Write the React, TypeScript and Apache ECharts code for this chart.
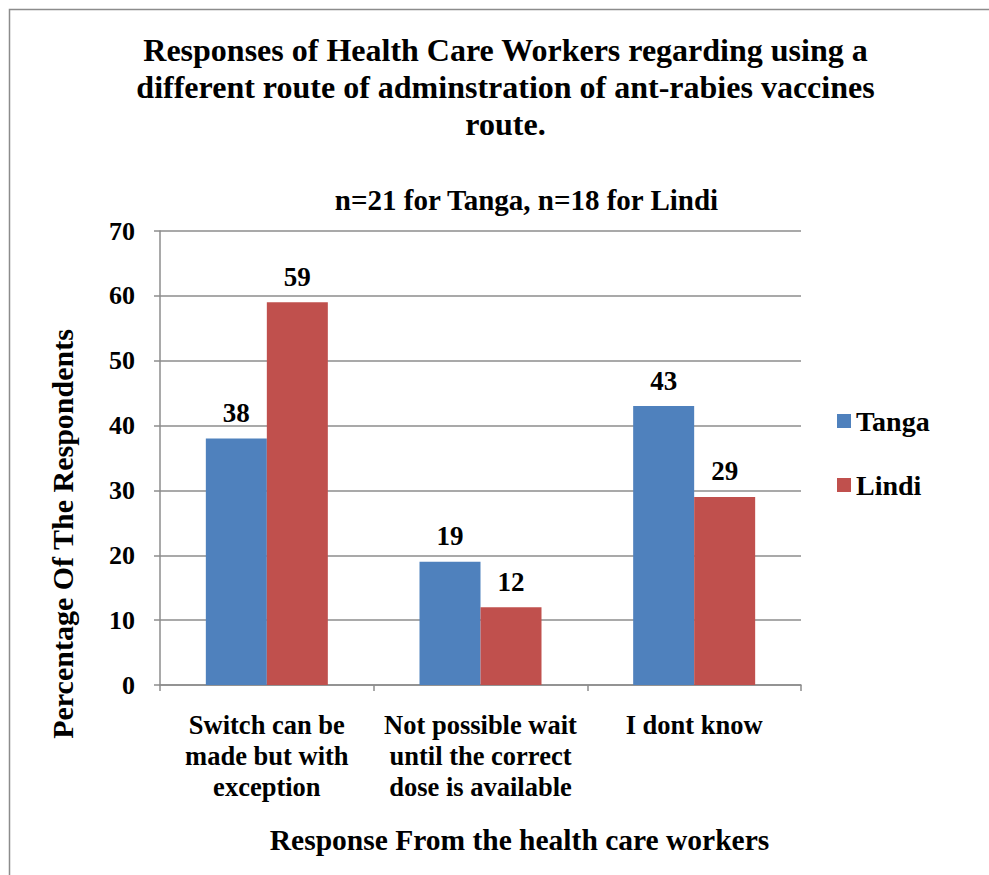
import React, { useEffect, useRef } from "react";
import * as echarts from "echarts";

const categories = [
  "Switch can be\nmade but with\nexception",
  "Not possible wait\nuntil the correct\ndose is available",
  "I dont know",
];
const tanga = [38, 19, 43];
const lindi = [59, 12, 29];
const seriesNames = ["Tanga", "Lindi"];
const titleText = "Responses of Health Care Workers regarding using a\ndifferent route of adminstration of ant-rabies vaccines\nroute.";
const subtitleText = "n=21 for Tanga, n=18 for Lindi";
const xName = "Response From the health care workers";
const yName = "Percentage Of The Respondents";

const FONT = "Liberation Serif";

export default function App() {
  const ref = useRef<HTMLDivElement>(null);
  useEffect(() => {
    const chart = echarts.init(ref.current!, null, { renderer: "svg" });
    const labelStyle = {
      show: true,
      position: "top" as const,
      distance: 12,
      color: "#000",
      fontFamily: FONT,
      fontWeight: "bold" as const,
      fontSize: 27,
    };
    chart.setOption({
      animation: false,
      backgroundColor: "#fff",
      textStyle: { fontFamily: FONT },
      grid: { left: 160, right: 188, top: 231, bottom: 190, containLabel: false },
      legend: {
        orient: "vertical",
        left: 832,
        top: 402,
        itemWidth: 14,
        itemHeight: 14,
        itemGap: 36,
        icon: "rect",
        textStyle: { fontFamily: FONT, fontWeight: "bold", fontSize: 28, color: "#000", lineHeight: 28 },
        data: seriesNames,
      },
      xAxis: {
        type: "category",
        data: categories,
        axisLine: { lineStyle: { color: "#8c8c8c", width: 1.5 } },
        axisTick: { show: true, length: 6, alignWithLabel: false, lineStyle: { color: "#8c8c8c", width: 1.5 } },
        axisLabel: {
          color: "#000",
          fontFamily: FONT,
          fontWeight: "bold",
          fontSize: 26.5,
          lineHeight: 31,
          margin: 24,
          interval: 0,
        },
      },
      yAxis: {
        type: "value",
        min: 0,
        max: 70,
        interval: 10,
        axisLine: { show: true, lineStyle: { color: "#8c8c8c", width: 1.5 } },
        axisTick: { show: true, length: 6, lineStyle: { color: "#8c8c8c", width: 1.5 } },
        splitLine: { lineStyle: { color: "#8c8c8c", width: 1.5 } },
        axisLabel: {
          color: "#000",
          fontFamily: FONT,
          fontWeight: "bold",
          fontSize: 26,
          margin: 25,
        },
      },
      series: [
        {
          name: seriesNames[0],
          type: "bar",
          data: tanga,
          barWidth: 61,
          barGap: "0%",
          itemStyle: { color: "#4F81BD" },
          label: labelStyle,
        },
        {
          name: seriesNames[1],
          type: "bar",
          data: lindi,
          barWidth: 61,
          barGap: "0%",
          itemStyle: { color: "#C0504D" },
          label: labelStyle,
        },
      ],
      graphic: [
        {
          type: "rect",
          shape: { x: 9.5, y: 9.5, width: 1200, height: 1200 },
          style: { fill: "none", stroke: "#8c8c8c", lineWidth: 1.5 },
          silent: true,
        },
        {
          type: "text",
          x: 505.5,
          y: 31.5,
          style: {
            text: titleText,
            textAlign: "center",
            textVerticalAlign: "top",
            fontFamily: FONT,
            fontWeight: "bold",
            fontSize: 32,
            lineHeight: 37,
            fill: "#000",
          },
        },
        {
          type: "text",
          x: 526.5,
          y: 200,
          style: {
            text: subtitleText,
            textAlign: "center",
            textVerticalAlign: "middle",
            fontFamily: FONT,
            fontWeight: "bold",
            fontSize: 29,
            fill: "#000",
          },
        },
        {
          type: "text",
          x: 519.5,
          y: 840,
          style: {
            text: xName,
            textAlign: "center",
            textVerticalAlign: "middle",
            fontFamily: FONT,
            fontWeight: "bold",
            fontSize: 29.5,
            fill: "#000",
          },
        },
        {
          type: "text",
          x: 62,
          y: 534,
          rotation: Math.PI / 2,
          style: {
            text: yName,
            textAlign: "center",
            textVerticalAlign: "middle",
            fontFamily: FONT,
            fontWeight: "bold",
            fontSize: 30,
            fill: "#000",
          },
        },
      ],
    });
    return () => chart.dispose();
  }, []);
  return (
    <div
      ref={ref}
      style={{ position: "fixed", left: 0, top: 0, width: 989, height: 875 }}
    />
  );
}
